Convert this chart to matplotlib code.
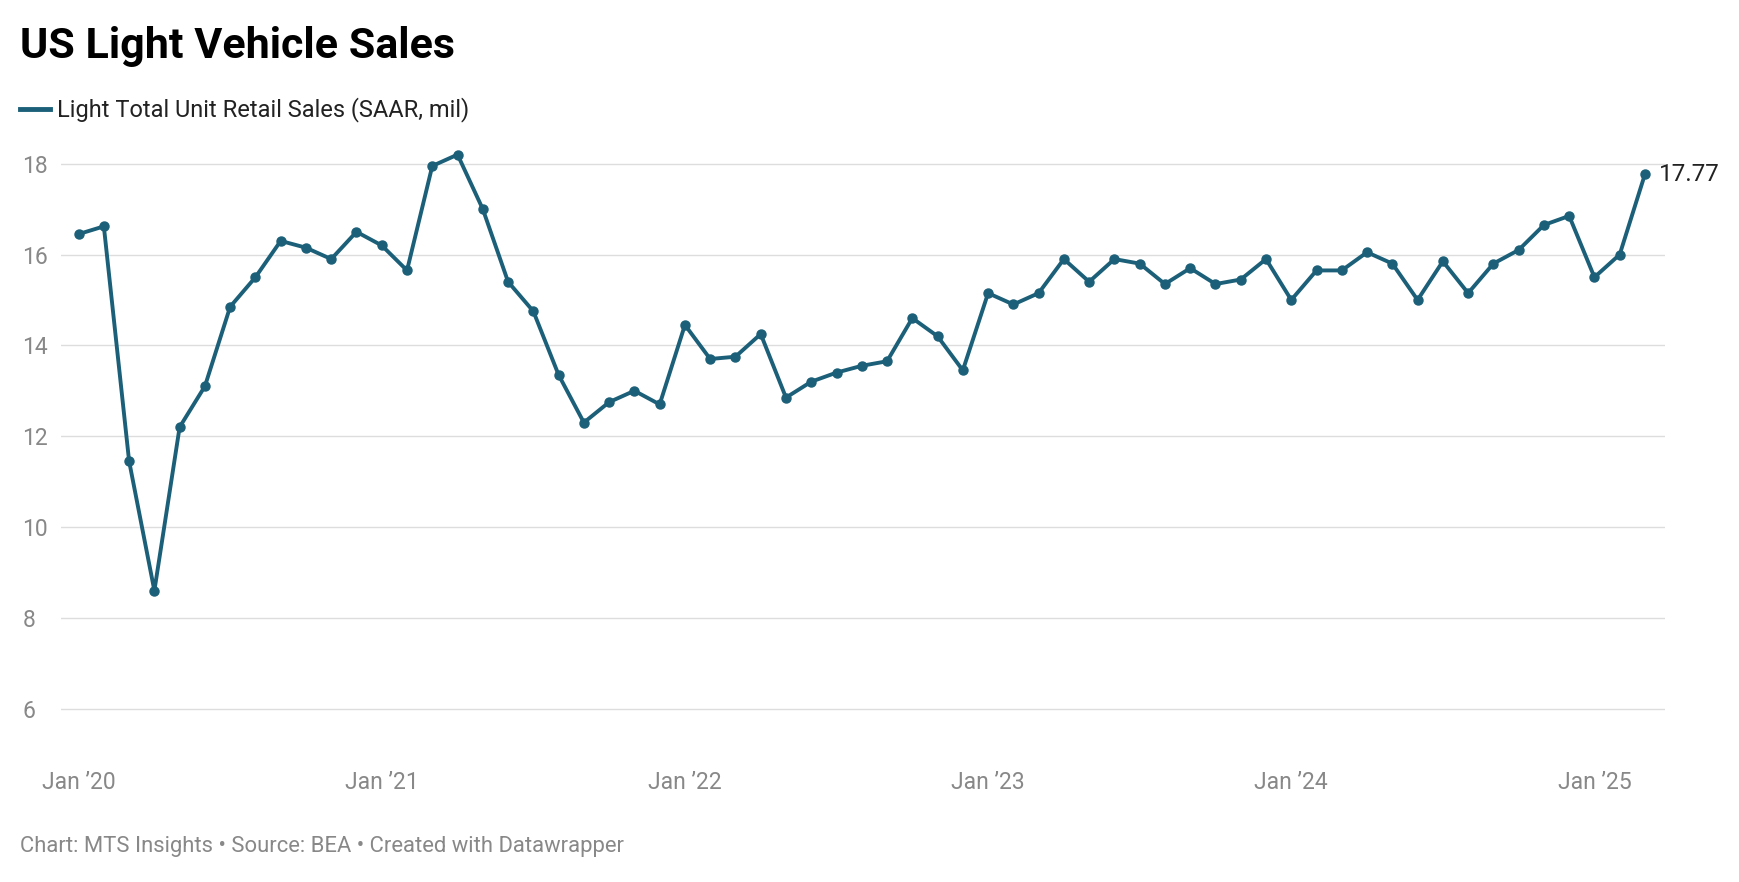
import matplotlib
matplotlib.use("Agg")
import matplotlib.pyplot as plt

values = [16.45, 16.62, 11.45, 8.6, 12.2, 13.1, 14.85, 15.5, 16.3, 16.15, 15.9, 16.5,
          16.2, 15.65, 17.95, 18.2, 17.0, 15.4, 14.75, 13.35, 12.3, 12.75, 13.0, 12.7,
          14.45, 13.7, 13.75, 14.25, 12.85, 13.2, 13.4, 13.55, 13.65, 14.6, 14.2, 13.45,
          15.15, 14.9, 15.15, 15.9, 15.4, 15.9, 15.8, 15.35, 15.7, 15.35, 15.45, 15.9,
          15.0, 15.65, 15.65, 16.05, 15.8, 15.0, 15.85, 15.15, 15.8, 16.1, 16.65, 16.85,
          15.5, 16.0, 17.77]
tick_labels = ["Jan \u201920", "Jan \u201921", "Jan \u201922", "Jan \u201923", "Jan \u201924", "Jan \u201925"]
tick_pos = [0, 12, 24, 36, 48, 60]
y_ticks = [6, 8, 10, 12, 14, 16, 18]
series_name = "Light Total Unit Retail Sales (SAAR, mil)"
color = "#1b6078"

plt.rcParams["font.family"] = "Roboto"
fig = plt.figure(figsize=(17.4, 8.82), dpi=100)
ax = fig.add_axes([0.035, 0.145, 0.922, 0.69])
x = list(range(len(values)))
ax.plot(x, values, color=color, lw=2.8, marker="o", ms=6.5, zorder=3)
ax.set_xlim(-0.7, 62.8)
ax.set_ylim(5, 18.4)
ax.set_yticks(y_ticks)
ax.set_xticks(tick_pos)
ax.set_xticklabels(tick_labels)
ax.grid(axis="y", color="#dddddd", lw=1)
for s in ax.spines.values():
    s.set_visible(False)
ax.tick_params(length=0, labelsize=16.5, colors="#888888")
ax.tick_params(axis="y", pad=0)
for lab in ax.get_yticklabels():
    lab.set_horizontalalignment("left")
    lab.set_x(-0.024)
ax.tick_params(axis="x", pad=12)
ax.annotate(f"{values[-1]:.2f}", (x[-1], values[-1]), xytext=(10, 0), textcoords="offset points",
            va="center", fontsize=17.5, color="#222222")

fig.text(0.0115, 0.947, "US Light Vehicle Sales", fontsize=31, fontweight="bold", va="center")
fig.add_artist(plt.Line2D([0.0115, 0.029], [0.876, 0.876], color=color, lw=3.5))
fig.text(0.033, 0.876, series_name, fontsize=17, va="center", color="#222222")
fig.text(0.0115, 0.04, "Chart: MTS Insights \u2022 Source: BEA \u2022 Created with Datawrapper",
         fontsize=15.8, color="#888888", va="center")
fig.savefig("out.png", dpi=100, facecolor="white")
